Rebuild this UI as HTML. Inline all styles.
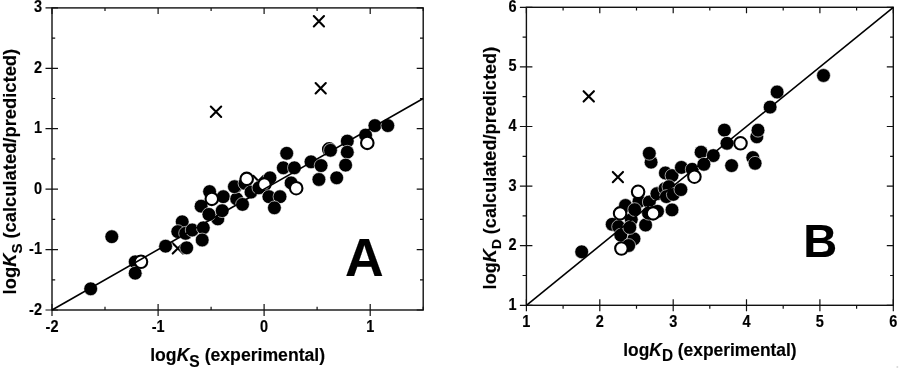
<!DOCTYPE html>
<html lang="en">
<head>
<meta charset="utf-8">
<title>logK calculated/predicted vs experimental</title>
<style>
html,body{margin:0;padding:0;background:#fff;}
body{width:900px;height:369px;overflow:hidden;}
svg{display:block;}
text{font-family:"Liberation Sans",sans-serif;font-weight:bold;fill:#000;stroke:#000;stroke-width:0.15;}
.ax{fill:none;stroke:#111;stroke-width:1.4;}
.tk{fill:none;stroke:#111;stroke-width:1.2;}
.ln{fill:none;stroke:#000;stroke-width:1.6;}
.f{fill:#000;stroke:#fff;stroke-width:0.6;}
.o{fill:#fff;stroke:#000;stroke-width:2.1;}
.x{fill:none;stroke:#000;stroke-width:2.1;stroke-linecap:round;}
.k{font-style:italic;}
</style>
</head>
<body>
<svg width="900" height="369" viewBox="0 0 900 369">
<rect width="900" height="369" fill="#fff"/>

<!-- Panel A -->
<g id="panelA">
<rect class="ax" x="52.0" y="7.9" width="371.2" height="302.1"/>
<path class="tk" d="M52.0 304.0V316.0M52.0 7.9V13.9M105.0 306.8V310.0M105.0 7.9V11.1M158.1 304.0V316.0M158.1 7.9V13.9M211.1 306.8V310.0M211.1 7.9V11.1M264.1 304.0V316.0M264.1 7.9V13.9M317.1 306.8V310.0M317.1 7.9V11.1M370.2 304.0V316.0M370.2 7.9V13.9M423.2 306.8V310.0M423.2 7.9V11.1M45.5 310.0H58.0M416.7 310.0H423.2M52.0 279.8H55.2M420.0 279.8H423.2M45.5 249.6H58.0M416.7 249.6H423.2M52.0 219.4H55.2M420.0 219.4H423.2M45.5 189.2H58.0M416.7 189.2H423.2M52.0 158.9H55.2M420.0 158.9H423.2M45.5 128.7H58.0M416.7 128.7H423.2M52.0 98.5H55.2M420.0 98.5H423.2M45.5 68.3H58.0M416.7 68.3H423.2M52.0 38.1H55.2M420.0 38.1H423.2M45.5 7.9H58.0M416.7 7.9H423.2"/>
<path class="x" d="M210.8 106.5L221.2 116.9M210.8 116.9L221.2 106.5"/>
<path class="x" d="M313.8 16.0L324.0 26.4M313.8 26.4L324.0 16.0"/>
<path class="x" d="M315.6 83.1L325.8 93.5M315.6 93.5L325.8 83.1"/>
<path class="x" d="M172.7 243.2L183.0 253.6M172.7 253.6L183.0 243.2"/>
<path class="x" d="M253.3 175.8L263.6 186.2M253.3 186.2L263.6 175.8"/>
<circle class="f" cx="90.7" cy="288.8" r="6.9"/>
<circle class="f" cx="111.8" cy="236.7" r="6.9"/>
<circle class="f" cx="135.2" cy="261.8" r="6.9"/>
<circle class="f" cx="135.2" cy="273.2" r="6.9"/>
<circle class="o" cx="141.0" cy="261.8" r="6.25"/>
<circle class="f" cx="165.6" cy="246.2" r="6.9"/>
<circle class="f" cx="186.7" cy="247.8" r="6.9"/>
<circle class="f" cx="182.2" cy="221.8" r="6.9"/>
<circle class="f" cx="177.8" cy="231.6" r="6.9"/>
<circle class="f" cx="185.6" cy="233.3" r="6.9"/>
<circle class="f" cx="192.2" cy="230.0" r="6.9"/>
<circle class="f" cx="203.3" cy="227.8" r="6.9"/>
<circle class="f" cx="202.2" cy="240.0" r="6.9"/>
<circle class="f" cx="201.1" cy="206.2" r="6.9"/>
<circle class="f" cx="209.6" cy="191.6" r="6.9"/>
<circle class="f" cx="223.3" cy="196.7" r="6.9"/>
<circle class="o" cx="211.8" cy="198.9" r="6.25"/>
<circle class="f" cx="217.8" cy="218.9" r="6.9"/>
<circle class="f" cx="208.9" cy="214.4" r="6.9"/>
<circle class="f" cx="222.2" cy="210.7" r="6.9"/>
<circle class="f" cx="235.6" cy="186.7" r="6.9"/>
<circle class="f" cx="236.7" cy="198.9" r="6.9"/>
<circle class="f" cx="242.5" cy="204.4" r="6.9"/>
<circle class="f" cx="234.4" cy="186.7" r="6.9"/>
<circle class="f" cx="245.0" cy="183.4" r="6.9"/>
<circle class="f" cx="251.0" cy="192.1" r="6.9"/>
<circle class="o" cx="246.7" cy="178.9" r="6.25"/>
<circle class="f" cx="258.9" cy="187.8" r="6.9"/>
<circle class="f" cx="270.0" cy="177.8" r="6.9"/>
<circle class="o" cx="264.4" cy="184.4" r="6.25"/>
<circle class="f" cx="268.9" cy="196.7" r="6.9"/>
<circle class="f" cx="280.0" cy="196.7" r="6.9"/>
<circle class="f" cx="274.4" cy="207.8" r="6.9"/>
<circle class="f" cx="286.7" cy="153.3" r="6.9"/>
<circle class="f" cx="283.3" cy="167.8" r="6.9"/>
<circle class="f" cx="294.4" cy="167.8" r="6.9"/>
<circle class="f" cx="291.1" cy="182.9" r="6.9"/>
<circle class="o" cx="296.2" cy="188.2" r="6.25"/>
<circle class="f" cx="311.0" cy="161.8" r="6.9"/>
<circle class="f" cx="321.1" cy="165.6" r="6.9"/>
<circle class="f" cx="318.9" cy="179.5" r="6.9"/>
<circle class="f" cx="336.7" cy="177.8" r="6.9"/>
<circle class="o" cx="329.2" cy="149.3" r="6.25"/>
<circle class="f" cx="330.5" cy="150.3" r="6.9"/>
<circle class="f" cx="347.3" cy="141.1" r="6.9"/>
<circle class="f" cx="347.3" cy="152.2" r="6.9"/>
<circle class="f" cx="345.6" cy="165.1" r="6.9"/>
<circle class="f" cx="365.6" cy="135.1" r="6.9"/>
<circle class="o" cx="367.3" cy="142.9" r="6.25"/>
<circle class="f" cx="374.9" cy="125.6" r="6.9"/>
<circle class="f" cx="387.8" cy="125.6" r="6.9"/>
<path class="ln" d="M52.0 310.0L423.2 98.5"/>
<text class="tl" font-size="14.5" text-anchor="middle" transform="translate(52.0 331.6) scale(1 1.1)">-2</text>
<text class="tl" font-size="14.5" text-anchor="middle" transform="translate(158.1 331.6) scale(1 1.1)">-1</text>
<text class="tl" font-size="14.5" text-anchor="middle" transform="translate(264.1 331.6) scale(1 1.1)">0</text>
<text class="tl" font-size="14.5" text-anchor="middle" transform="translate(370.2 331.6) scale(1 1.1)">1</text>
<text class="tl" font-size="14.5" text-anchor="end" transform="translate(42 314.5) scale(1 1.08)">-2</text>
<text class="tl" font-size="14.5" text-anchor="end" transform="translate(42 254.1) scale(1 1.08)">-1</text>
<text class="tl" font-size="14.5" text-anchor="end" transform="translate(42 193.7) scale(1 1.08)">0</text>
<text class="tl" font-size="14.5" text-anchor="end" transform="translate(42 133.2) scale(1 1.08)">1</text>
<text class="tl" font-size="14.5" text-anchor="end" transform="translate(42 72.8) scale(1 1.08)">2</text>
<text class="tl" font-size="14.5" text-anchor="end" transform="translate(42 12.4) scale(1 1.08)">3</text>
<text font-size="18.3" textLength="245.6" lengthAdjust="spacingAndGlyphs" transform="translate(15.9 294.4) rotate(-90)">log<tspan class="k">K</tspan><tspan font-size="14.9" dy="5.9">S</tspan><tspan dy="-5.9"> (calculated/predicted)</tspan></text>
<text font-size="18.3" textLength="174.9" lengthAdjust="spacingAndGlyphs" x="150.2" y="361.3">log<tspan class="k">K</tspan><tspan font-size="16.2" dy="6.0">S</tspan><tspan dy="-6.0"> (experimental)</tspan></text>
<text font-size="53.5" x="344.9" y="276.3">A</text>
</g>

<!-- Panel B -->
<g id="panelB">
<rect class="ax" x="526.4" y="7.3" width="366.9" height="298.0"/>
<path class="tk" d="M526.4 299.3V311.3M526.4 7.3V13.3M563.1 305.3V308.8M563.1 7.3V10.5M599.8 299.3V311.3M599.8 7.3V13.3M636.5 305.3V308.8M636.5 7.3V10.5M673.2 299.3V311.3M673.2 7.3V13.3M709.8 305.3V308.8M709.8 7.3V10.5M746.5 299.3V311.3M746.5 7.3V13.3M783.2 305.3V308.8M783.2 7.3V10.5M819.9 299.3V311.3M819.9 7.3V13.3M856.6 305.3V308.8M856.6 7.3V10.5M893.3 299.3V311.3M893.3 7.3V13.3M519.9 305.3H532.4M886.8 305.3H893.3M522.6 275.5H526.4M890.1 275.5H893.3M519.9 245.7H532.4M886.8 245.7H893.3M522.6 215.9H526.4M890.1 215.9H893.3M519.9 186.1H532.4M886.8 186.1H893.3M522.6 156.3H526.4M890.1 156.3H893.3M519.9 126.5H532.4M886.8 126.5H893.3M522.6 96.7H526.4M890.1 96.7H893.3M519.9 66.9H532.4M886.8 66.9H893.3M522.6 37.1H526.4M890.1 37.1H893.3M519.9 7.3H532.4M886.8 7.3H893.3"/>
<path class="x" d="M583.6 91.2L593.9 101.6M583.6 101.6L593.9 91.2"/>
<path class="x" d="M612.8 171.9L623.0 182.2M612.8 182.2L623.0 171.9"/>
<circle class="f" cx="581.7" cy="251.8" r="6.9"/>
<circle class="f" cx="631.3" cy="219.6" r="6.9"/>
<circle class="f" cx="625.5" cy="205.5" r="6.9"/>
<circle class="f" cx="639.0" cy="201.5" r="6.9"/>
<circle class="f" cx="649.3" cy="202.0" r="6.9"/>
<circle class="f" cx="657.8" cy="193.5" r="6.9"/>
<circle class="f" cx="612.2" cy="224.3" r="6.9"/>
<circle class="f" cx="618.6" cy="226.7" r="6.9"/>
<circle class="f" cx="645.6" cy="225.0" r="6.9"/>
<circle class="f" cx="620.8" cy="235.2" r="6.9"/>
<circle class="f" cx="634.0" cy="238.8" r="6.9"/>
<circle class="f" cx="628.7" cy="245.5" r="6.9"/>
<circle class="f" cx="648.5" cy="213.2" r="6.9"/>
<circle class="f" cx="657.5" cy="211.3" r="6.9"/>
<circle class="f" cx="629.8" cy="227.5" r="6.9"/>
<circle class="f" cx="634.7" cy="209.6" r="6.9"/>
<circle class="o" cx="638.1" cy="191.8" r="6.25"/>
<circle class="o" cx="620.1" cy="213.4" r="6.25"/>
<circle class="o" cx="653.1" cy="213.4" r="6.25"/>
<circle class="o" cx="621.4" cy="248.5" r="6.25"/>
<circle class="f" cx="651.1" cy="162.2" r="6.9"/>
<circle class="f" cx="649.3" cy="153.3" r="6.9"/>
<circle class="f" cx="665.4" cy="173.0" r="6.9"/>
<circle class="f" cx="672.0" cy="175.6" r="6.9"/>
<circle class="f" cx="681.4" cy="167.4" r="6.9"/>
<circle class="f" cx="692.2" cy="169.3" r="6.9"/>
<circle class="f" cx="656.9" cy="193.7" r="6.9"/>
<circle class="f" cx="665.0" cy="188.6" r="6.9"/>
<circle class="f" cx="668.9" cy="186.7" r="6.9"/>
<circle class="f" cx="666.4" cy="196.6" r="6.9"/>
<circle class="f" cx="673.3" cy="194.4" r="6.9"/>
<circle class="f" cx="680.9" cy="189.6" r="6.9"/>
<circle class="f" cx="672.0" cy="209.9" r="6.9"/>
<circle class="o" cx="694.4" cy="176.7" r="6.25"/>
<circle class="f" cx="701.1" cy="152.2" r="6.9"/>
<circle class="f" cx="713.3" cy="155.6" r="6.9"/>
<circle class="f" cx="703.9" cy="164.3" r="6.9"/>
<circle class="f" cx="724.4" cy="130.1" r="6.9"/>
<circle class="f" cx="727.0" cy="143.3" r="6.9"/>
<circle class="o" cx="740.5" cy="143.3" r="6.25"/>
<circle class="f" cx="731.6" cy="165.6" r="6.9"/>
<circle class="f" cx="756.8" cy="136.8" r="6.9"/>
<circle class="f" cx="758.0" cy="130.2" r="6.9"/>
<circle class="f" cx="752.8" cy="157.6" r="6.9"/>
<circle class="f" cx="755.1" cy="163.3" r="6.9"/>
<circle class="f" cx="770.1" cy="107.1" r="6.9"/>
<circle class="f" cx="777.1" cy="92.0" r="6.9"/>
<circle class="f" cx="823.5" cy="75.5" r="6.9"/>
<path class="ln" d="M526.4 305.3L893.3 7.3"/>
<text class="tl" font-size="14.5" text-anchor="middle" transform="translate(526.4 327.1) scale(1 1.1)">1</text>
<text class="tl" font-size="14.5" text-anchor="middle" transform="translate(599.8 327.1) scale(1 1.1)">2</text>
<text class="tl" font-size="14.5" text-anchor="middle" transform="translate(673.2 327.1) scale(1 1.1)">3</text>
<text class="tl" font-size="14.5" text-anchor="middle" transform="translate(746.5 327.1) scale(1 1.1)">4</text>
<text class="tl" font-size="14.5" text-anchor="middle" transform="translate(819.9 327.1) scale(1 1.1)">5</text>
<text class="tl" font-size="14.5" text-anchor="middle" transform="translate(893.3 327.1) scale(1 1.1)">6</text>
<text class="tl" font-size="14.5" text-anchor="end" transform="translate(516.5 309.7) scale(1 1.08)">1</text>
<text class="tl" font-size="14.5" text-anchor="end" transform="translate(516.5 250.1) scale(1 1.08)">2</text>
<text class="tl" font-size="14.5" text-anchor="end" transform="translate(516.5 190.5) scale(1 1.08)">3</text>
<text class="tl" font-size="14.5" text-anchor="end" transform="translate(516.5 130.9) scale(1 1.08)">4</text>
<text class="tl" font-size="14.5" text-anchor="end" transform="translate(516.5 71.3) scale(1 1.08)">5</text>
<text class="tl" font-size="14.5" text-anchor="end" transform="translate(516.5 11.7) scale(1 1.08)">6</text>
<text font-size="17.7" textLength="242.6" lengthAdjust="spacingAndGlyphs" transform="translate(496.2 289.4) rotate(-90)">log<tspan class="k">K</tspan><tspan font-size="13.4" dy="5.0">D</tspan><tspan dy="-5.0"> (calculated/predicted)</tspan></text>
<text font-size="17.7" textLength="173.3" lengthAdjust="spacingAndGlyphs" x="623.3" y="355.7">log<tspan class="k">K</tspan><tspan font-size="15.6" dy="5.2">D</tspan><tspan dy="-5.2"> (experimental)</tspan></text>
<text font-size="47" x="803.2" y="257.2">B</text>
</g>
<circle cx="897.3" cy="367" r="1" fill="#d8d8d8"/>
</svg>
</body>
</html>
